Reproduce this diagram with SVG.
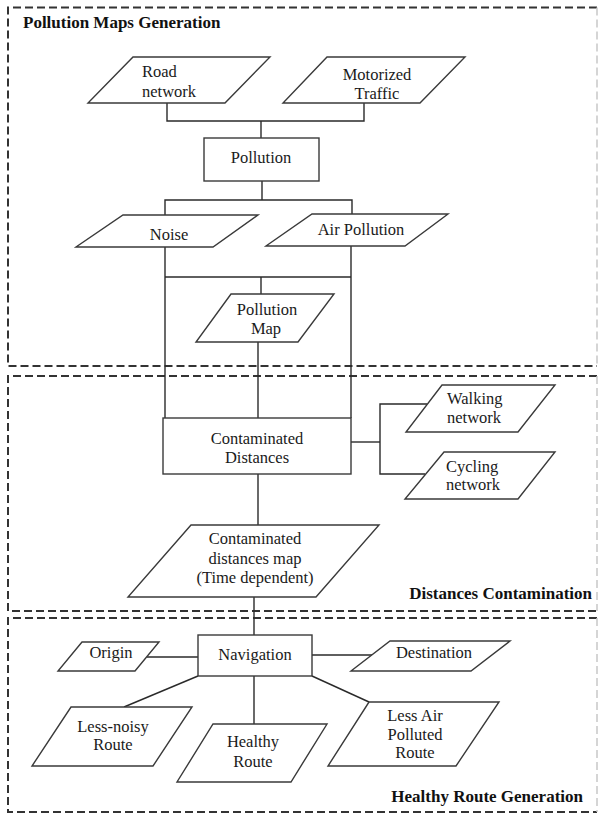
<svg xmlns="http://www.w3.org/2000/svg" width="598" height="814" viewBox="0 0 598 814">
<style>
.bg{fill:#fff}
.frame{fill:none;stroke:#333;stroke-width:2;stroke-dasharray:8 4}
.frameR{fill:none;stroke:#c8c8c8;stroke-width:1.5;stroke-dasharray:8 4}
.shape{fill:#fff;stroke:#3a3a3a;stroke-width:1.4}
.con{fill:none;stroke:#2a2a2a;stroke-width:1.4}
.m{text-anchor:middle}
</style>
<rect class="bg" x="0" y="0" width="598" height="814"/>
<g id="frames">
<path class="frame" d="M597,7.5 H8 V366 H597"/>
<path class="frameR" d="M597,7.5 V366"/>
<path class="frame" d="M597,376 H8 V611 H597"/>
<path class="frameR" d="M597,376 V611"/>
<path class="frame" d="M597,618 H8 V812 H597"/>
<path class="frameR" d="M597,618 V812"/>
</g>
<g id="section-labels" font-family="Liberation Serif, Times New Roman, serif" font-size="17" font-weight="bold" fill="#111">
<text x="23" y="28">Pollution Maps Generation</text>
<text x="592" y="599" text-anchor="end">Distances Contamination</text>
<text x="583" y="802" text-anchor="end">Healthy Route Generation</text>
</g>
<g id="connectors">
<path class="con" d="M167,103 V121 H364 V103"/>
<path class="con" d="M261,121 V138"/>
<path class="con" d="M262,181 V200"/>
<path class="con" d="M165,215 V200 H352 V214"/>
<path class="con" d="M165,247 V418"/>
<path class="con" d="M351,246 V418"/>
<path class="con" d="M165,277 H351"/>
<path class="con" d="M261,277 V294"/>
<path class="con" d="M258,342 V418"/>
<path class="con" d="M351,442 H380"/>
<path class="con" d="M427,404 H380 V474 H425"/>
<path class="con" d="M258,474 V525"/>
<path class="con" d="M254,597 V635"/>
<path class="con" d="M147,657 H198"/>
<path class="con" d="M312,655 H372"/>
<path class="con" d="M198,676 L124,707"/>
<path class="con" d="M254,676 V724"/>
<path class="con" d="M312,676 L369,702"/>
</g>
<g id="nodes" font-family="Liberation Serif, Times New Roman, serif" font-size="16.5" fill="#1a1a1a">
<g id="road-network">
<polygon class="shape" points="133,57 270,57 225,103 88,103"/>
<text x="142" y="77">Road</text>
<text x="142" y="97">network</text>
</g>
<g id="motorized-traffic">
<polygon class="shape" points="327,57 465,57 420,103 283,103"/>
<text class="m" x="377" y="80">Motorized</text>
<text class="m" x="377" y="99">Traffic</text>
</g>
<g id="pollution">
<rect class="shape" x="204" y="138" width="115" height="43"/>
<text class="m" x="261" y="163">Pollution</text>
</g>
<g id="noise">
<polygon class="shape" points="123,215 258,215 213,247 76,247"/>
<text class="m" x="169" y="240">Noise</text>
</g>
<g id="air-pollution">
<polygon class="shape" points="312,214 448,214 405,246 266,246"/>
<text class="m" x="361" y="235">Air Pollution</text>
</g>
<g id="pollution-map">
<polygon class="shape" points="231,294 334,294 298,342 196,342"/>
<text class="m" x="267" y="315">Pollution</text>
<text class="m" x="266" y="334">Map</text>
</g>
<g id="contaminated-distances">
<rect class="shape" x="163" y="418" width="188" height="56"/>
<text class="m" x="257" y="444">Contaminated</text>
<text class="m" x="257" y="463">Distances</text>
</g>
<g id="walking-network">
<polygon class="shape" points="442,385 555,385 518,432 406,432"/>
<text x="447" y="404">Walking</text>
<text x="447" y="423">network</text>
</g>
<g id="cycling-network">
<polygon class="shape" points="444,452 555,452 518,499 405,499"/>
<text x="446" y="472">Cycling</text>
<text x="446" y="490">network</text>
</g>
<g id="contaminated-map">
<polygon class="shape" points="191,525 379,525 316,597 128,597"/>
<text class="m" x="255" y="544">Contaminated</text>
<text class="m" x="255" y="564">distances map</text>
<text class="m" x="255" y="583">(Time dependent)</text>
</g>
<g id="navigation">
<rect class="shape" x="198" y="635" width="114" height="41"/>
<text class="m" x="255" y="660">Navigation</text>
</g>
<g id="origin">
<polygon class="shape" points="82,642 159,642 135,671 58,671"/>
<text class="m" x="111" y="658">Origin</text>
</g>
<g id="destination">
<polygon class="shape" points="390,641 510,641 471,671 351,671"/>
<text class="m" x="434" y="658">Destination</text>
</g>
<g id="less-noisy-route">
<polygon class="shape" points="71,707 192,707 153,766 32,766"/>
<text class="m" x="113" y="732">Less-noisy</text>
<text class="m" x="113" y="750">Route</text>
</g>
<g id="healthy-route">
<polygon class="shape" points="213,724 327,724 291,782 177,782"/>
<text class="m" x="253" y="747">Healthy</text>
<text class="m" x="253" y="767">Route</text>
</g>
<g id="less-air-polluted-route">
<polygon class="shape" points="369,702 499,702 456,766 328,766"/>
<text class="m" x="415" y="721">Less Air</text>
<text class="m" x="415" y="740">Polluted</text>
<text class="m" x="415" y="758">Route</text>
</g>
</g>
</svg>
